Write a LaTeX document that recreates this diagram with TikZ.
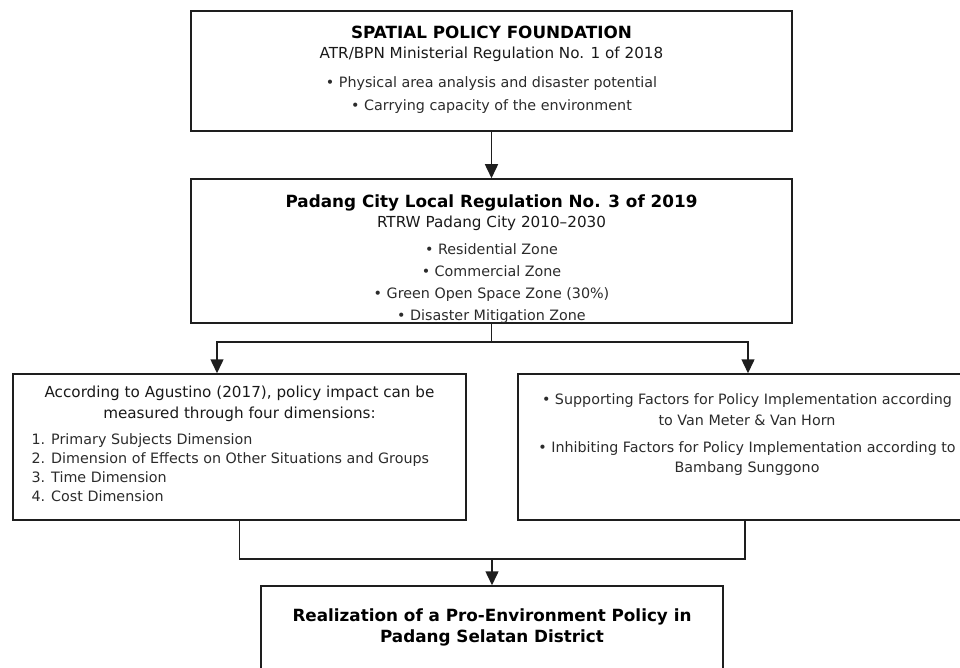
\documentclass[tikz,border=0pt]{standalone}
\usepackage{fontspec}
\setmainfont{DejaVu Sans}
\usetikzlibrary{arrows.meta}
\definecolor{bodygray}{HTML}{2B2B2B}
\definecolor{linegray}{HTML}{1E1E1E}
\tikzset{
    %Define style for boxes
    box/.style={
           rectangle,
           draw=linegray, line width=1.5pt,
           inner sep=0pt},
    %Define styles for the text lines
    title/.style={anchor=base, font=\bfseries\fontsize{16.8}{20}\selectfont},
    subtitle/.style={anchor=base, text=black!90, font=\fontsize{15.2}{20}\selectfont},
    body/.style={anchor=base, text=bodygray, font=\fontsize{14.3}{20}\selectfont},
    % Define arrow styles
    link/.style={draw=linegray, line width=1.5pt},
    pil/.style={link, -{Triangle[width=13pt,length=14pt]}}
}
\begin{document}
\begin{tikzpicture}[x=1pt,y=-1pt]
\useasboundingbox (0,0) rectangle (960,668);
\clip (0,0) rectangle (960,668);

% boxes
\node[box, minimum width=601pt, minimum height=120pt] (spatial) at (491.5,71) {};
\node[box, minimum width=601pt, minimum height=144pt] (perda) at (491.5,251) {};
\node[box, minimum width=453pt, minimum height=146pt] (impact) at (239.5,447) {};
\node[box, minimum width=460pt, minimum height=146pt] (factors) at (748,447) {};
\node[box, minimum width=462pt, minimum height=86pt] (result) at (492,629) {};

% spatial policy foundation
\node[title] (spatialtitle) at (491.5,38.7) {SPATIAL POLICY FOUNDATION};
\node[subtitle] (spatialsub) at (491.5,58.7) {ATR/BPN Ministerial Regulation No. 1 of 2018};
\node[body] (spatialone) at (491.5,88) {• Physical area analysis and disaster potential};
\node[body] (spatialtwo) at (491.5,110.8) {• Carrying capacity of the environment};

% local regulation
\node[title] (perdatitle) at (491.5,207.3) {Padang City Local Regulation No. 3 of 2019};
\node[subtitle] (perdasub) at (491.5,227.3) {RTRW Padang City 2010–2030};
\node[body] (zone1) at (491.5,254.5) {• Residential Zone};
\node[body] (zone2) at (491.5,276.1) {• Commercial Zone};
\node[body] (zone3) at (491.5,298.8) {• Green Open Space Zone (30\%)};
\node[body] (zone4) at (491.5,320.5) {• Disaster Mitigation Zone};

% policy impact
\node[subtitle] (impacthead) at (239.5,397.3) {According to Agustino (2017), policy impact can be};
\node[subtitle] (impacthead2) at (239.5,418.3) {measured through four dimensions:};
\foreach \dim [count=\i] in {Primary Subjects Dimension,
        Dimension of Effects on Other Situations and Groups,
        Time Dimension, Cost Dimension}
    \node[body, anchor=base west] (dim\i) at (28,{444.8+19*(\i-1)}) {\i. \dim};

% supporting and inhibiting factors
\node[body] (support) at (747,404.8) {• Supporting Factors for Policy Implementation according};
\node[body] (support2) at (747,425.8) {to Van Meter \& Van Horn};
\node[body] (inhibit) at (747,452.1) {• Inhibiting Factors for Policy Implementation according to};
\node[body] (inhibit2) at (747,472.5) {Bambang Sunggono};

% result
\node[title] (resulttitle) at (492,621.7) {Realization of a Pro-Environment Policy in};
\node[title] (resulttitle2) at (492,642.7) {Padang Selatan District};

% connectors
\coordinate (split) at (491.5,342);
\coordinate (join) at (492,559);
\draw[pil] (spatial) -- (perda);
\draw[link] (perda.south) -- (split);
\draw[pil] (split) -| ([xshift=-22.5pt]impact.north);
\draw[pil] (split) -| (factors.north);
\draw[link] (impact.south) |- (join) -| ([xshift=-3pt]factors.south);
\draw[pil] (join) -- (result.north);

\end{tikzpicture}
\end{document}
